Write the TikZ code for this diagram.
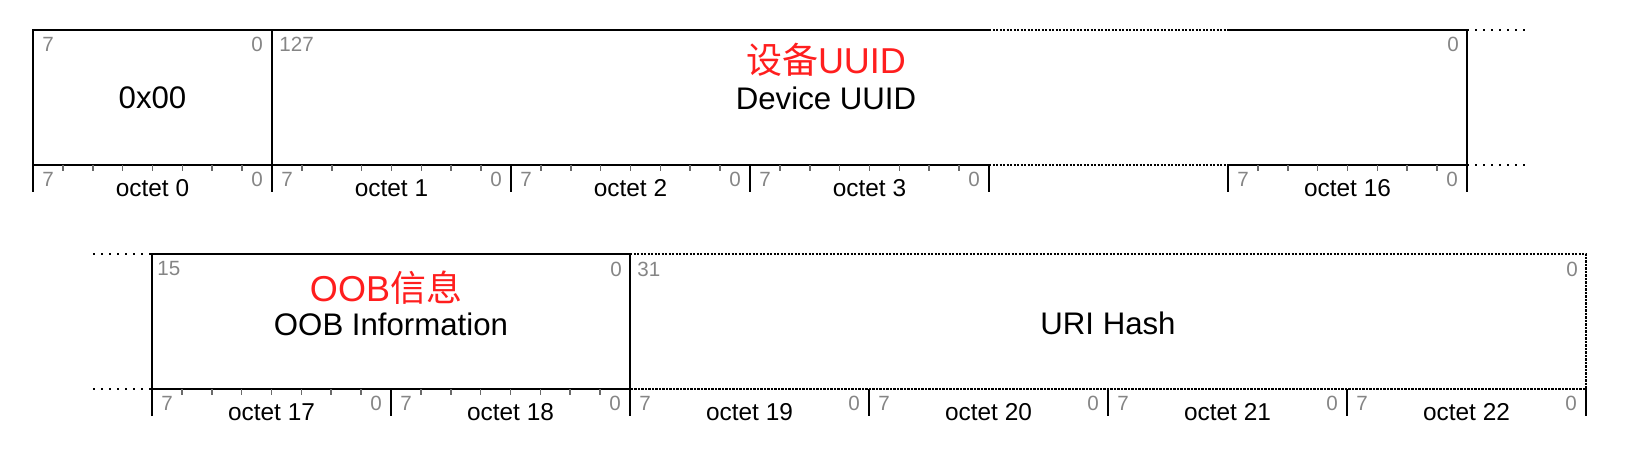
\documentclass[tikz,border=0pt]{standalone}
\usepackage{fontspec}
\setmainfont{Liberation Sans}
\newfontfamily\cjk{Noto Sans CJK SC}
\usepackage{xcolor}
\usepackage{tikz}

\definecolor{bitgray}{HTML}{858585}
\definecolor{tickgray}{HTML}{6A6A6A}
\definecolor{cnred}{HTML}{FF1E1E}

\begin{document}
\begin{tikzpicture}[x=0.5pt,y=-0.5pt,
    frame/.style={line width=1pt},
    dense/.style={line width=1.1pt,dash pattern=on 1.2pt off 0.55pt},
    sparse/.style={line width=1pt,dash pattern=on 1pt off 3pt},
    minor/.style={tickgray,line width=0.8pt},
    bitnum/.style={text=bitgray,inner sep=0pt,font=\fontsize{10.3}{12}\selectfont},
    octlbl/.style={inner sep=0pt,font=\fontsize{12.2}{14}\selectfont},
    field/.style={inner sep=0pt,font=\fontsize{15.6}{18}\selectfont},
    cnlbl/.style={text=cnred,inner sep=0pt,font=\fontsize{18}{20}\selectfont}]
    \useasboundingbox (0,0) rectangle (1635,449);

    % first row: 0x00 and the device UUID
    \draw[frame] (33,192) -- (33,30) -- (989,30);
    \draw[dense] (989,30) -- (1228,30);
    \draw[frame] (1228,30) -- (1467,30) -- (1467,192);
    \draw[sparse] (1467,30) -- (1530,30);
    \draw[frame] (33,165) -- (989,165);
    \draw[dense] (989,165) -- (1228,165);
    \draw[frame] (1228,165) -- (1467,165);
    \draw[sparse] (1467,165) -- (1530,165);
    \draw[frame] (272,30) -- (272,192);
    \foreach \x in {511,750,989,1228}
      \draw[frame] (\x,165) -- (\x,192);
    \foreach \o/\n in {0/0,1/1,2/2,3/3,5/16} {
      \foreach \i in {1,...,7}
        \draw[minor] (33+\o*239+\i*29.875,165) -- ++(0,6);
      \node[bitnum] (hi\n) at (33+\o*239+15,179) {7};
      \node[bitnum] (lo\n) at (33+\o*239+224,179) {0};
      \node[octlbl] (oct\n) at (33+\o*239+119.5,188) {octet \n};
    }
    \node[bitnum] (hdrhi) at (48,44) {7};
    \node[bitnum] (hdrlo) at (257,44) {0};
    \node[bitnum,anchor=west] (uuidhi) at (279,44) {127};
    \node[bitnum] (uuidlo) at (1453,44) {0};
    \node[field] (hdr) at (152.5,98) {0x00};
    \node[cnlbl] (uuidcn) at (826,60) {{\cjk 设备}UUID};
    \node[field] (uuid) at (826,98) {Device UUID};

    % second row: OOB information and URI hash
    \draw[sparse] (93,254) -- (152,254);
    \draw[sparse] (93,389) -- (152,389);
    \draw[frame] (152,416) -- (152,254) -- (630,254) -- (630,416);
    \draw[frame] (152,389) -- (630,389);
    \draw[dense] (630,254) -- (1586,254) -- (1586,389) -- (630,389);
    \foreach \x in {391,869,1108,1347,1586}
      \draw[frame] (\x,389) -- (\x,416);
    \foreach \o/\n in {0/17,1/18} {
      \foreach \i in {1,...,7}
        \draw[minor] (152+\o*239+\i*29.875,389) -- ++(0,6);
    }
    \foreach \o/\n in {0/17,1/18,2/19,3/20,4/21,5/22} {
      \node[bitnum] (hi\n) at (152+\o*239+15,403) {7};
      \node[bitnum] (lo\n) at (152+\o*239+224,403) {0};
      \node[octlbl] (oct\n) at (152+\o*239+119.5,412) {octet \n};
    }
    \node[bitnum,anchor=west] (oobhi) at (157,269) {15};
    \node[bitnum] (ooblo) at (616,269) {0};
    \node[bitnum,anchor=west] (urihi) at (637,269) {31};
    \node[bitnum] (urilo) at (1572,269) {0};
    \node[cnlbl] (oobcn) at (386,288) {OOB{\cjk 信息}};
    \node[field] (oob) at (391,324) {OOB Information};
    \node[field] (uri) at (1108,323) {URI Hash};
\end{tikzpicture}
\end{document}
